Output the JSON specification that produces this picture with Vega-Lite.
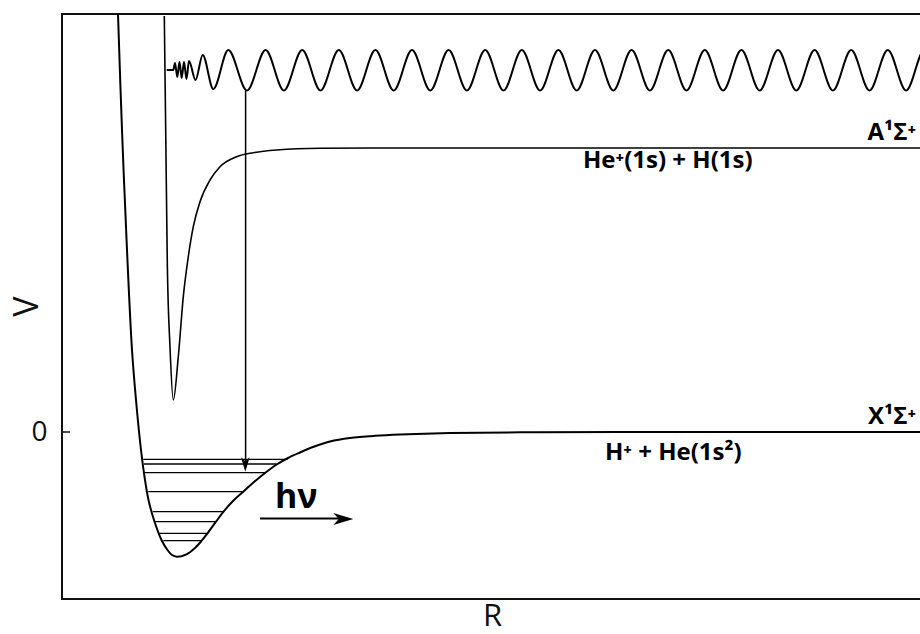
{
  "$schema": "https://vega.github.io/schema/vega-lite/v6.json",
  "width": 860,
  "height": 585,
  "autosize": {"type": "none"},
  "padding": {"left": 62, "top": 14, "right": 0, "bottom": 35},
  "background": "white",
  "config": {
    "view": {"stroke": "#111", "strokeWidth": 2},
    "font": "Open Sans"
  },
  "datasets": {
    "curves": [
      {"s": "X", "x": 55.8, "y": 424},
      {"s": "X", "x": 56, "y": 418},
      {"s": "X", "x": 60, "y": 302},
      {"s": "X", "x": 65, "y": 182},
      {"s": "X", "x": 70, "y": 82},
      {"s": "X", "x": 74, "y": 32},
      {"s": "X", "x": 79, "y": -18},
      {"s": "X", "x": 83, "y": -48},
      {"s": "X", "x": 86.5, "y": -68},
      {"s": "X", "x": 92, "y": -88},
      {"s": "X", "x": 99.5, "y": -108},
      {"s": "X", "x": 105.5, "y": -118},
      {"s": "X", "x": 110, "y": -123},
      {"s": "X", "x": 114.7, "y": -124.7},
      {"s": "X", "x": 124.5, "y": -122.3},
      {"s": "X", "x": 133, "y": -116},
      {"s": "X", "x": 139.7, "y": -108.7},
      {"s": "X", "x": 145.5, "y": -101.3},
      {"s": "X", "x": 154, "y": -89.7},
      {"s": "X", "x": 161.5, "y": -79.7},
      {"s": "X", "x": 171, "y": -69},
      {"s": "X", "x": 181.3, "y": -59.7},
      {"s": "X", "x": 192, "y": -50},
      {"s": "X", "x": 203, "y": -41},
      {"s": "X", "x": 214.7, "y": -32.5},
      {"s": "X", "x": 226, "y": -26},
      {"s": "X", "x": 238, "y": -20.5},
      {"s": "X", "x": 251, "y": -15},
      {"s": "X", "x": 268, "y": -9.5},
      {"s": "X", "x": 288, "y": -6},
      {"s": "X", "x": 313, "y": -3.8},
      {"s": "X", "x": 338, "y": -2.5},
      {"s": "X", "x": 388, "y": -1},
      {"s": "X", "x": 458, "y": -0.3},
      {"s": "X", "x": 558, "y": 0},
      {"s": "X", "x": 870, "y": 0},
      {"s": "A", "x": 102.3, "y": 416},
      {"s": "A", "x": 103.7, "y": 302},
      {"s": "A", "x": 105.3, "y": 169},
      {"s": "A", "x": 108, "y": 85},
      {"s": "A", "x": 111.3, "y": 32},
      {"s": "A", "x": 116.3, "y": 75.3},
      {"s": "A", "x": 121.3, "y": 135.3},
      {"s": "A", "x": 126.3, "y": 175.3},
      {"s": "A", "x": 131.3, "y": 205.3},
      {"s": "A", "x": 138, "y": 230.3},
      {"s": "A", "x": 148, "y": 252},
      {"s": "A", "x": 158, "y": 265.3},
      {"s": "A", "x": 174.7, "y": 275.3},
      {"s": "A", "x": 191.3, "y": 279.3},
      {"s": "A", "x": 214.7, "y": 282},
      {"s": "A", "x": 258, "y": 283.7},
      {"s": "A", "x": 338, "y": 284},
      {"s": "A", "x": 870, "y": 284},
      {"s": "W", "x": 104.7, "y": 362},
      {"s": "W", "x": 111.3, "y": 362},
      {"s": "W", "x": 113, "y": 369},
      {"s": "W", "x": 115.3, "y": 355},
      {"s": "W", "x": 117.5, "y": 370},
      {"s": "W", "x": 119.7, "y": 354},
      {"s": "W", "x": 122, "y": 370},
      {"s": "W", "x": 124.5, "y": 353},
      {"s": "W", "x": 127, "y": 371},
      {"s": "W", "x": 133.5, "y": 352},
      {"s": "W", "x": 140.7, "y": 377},
      {"s": "W", "x": 151.3, "y": 343},
      {"s": "W", "x": 166.3, "y": 382},
      {"s": "W", "x": 185, "y": 341.5},
      {"s": "W", "x": 203.6, "y": 382},
      {"s": "W", "x": 221.9, "y": 341.5},
      {"s": "W", "x": 240.2, "y": 382},
      {"s": "W", "x": 258.5, "y": 341.5},
      {"s": "W", "x": 276.8, "y": 382},
      {"s": "W", "x": 295.1, "y": 341.5},
      {"s": "W", "x": 313.4, "y": 382},
      {"s": "W", "x": 331.7, "y": 341.5},
      {"s": "W", "x": 350, "y": 382},
      {"s": "W", "x": 368.3, "y": 341.5},
      {"s": "W", "x": 386.6, "y": 382},
      {"s": "W", "x": 404.9, "y": 341.5},
      {"s": "W", "x": 423.2, "y": 382},
      {"s": "W", "x": 441.5, "y": 341.5},
      {"s": "W", "x": 459.8, "y": 382},
      {"s": "W", "x": 478.1, "y": 341.5},
      {"s": "W", "x": 496.4, "y": 382},
      {"s": "W", "x": 514.7, "y": 341.5},
      {"s": "W", "x": 533, "y": 382},
      {"s": "W", "x": 551.3, "y": 341.5},
      {"s": "W", "x": 569.6, "y": 382},
      {"s": "W", "x": 587.9, "y": 341.5},
      {"s": "W", "x": 606.2, "y": 382},
      {"s": "W", "x": 624.5, "y": 341.5},
      {"s": "W", "x": 642.8, "y": 382},
      {"s": "W", "x": 661.1, "y": 341.5},
      {"s": "W", "x": 679.4, "y": 382},
      {"s": "W", "x": 697.7, "y": 341.5},
      {"s": "W", "x": 716, "y": 382},
      {"s": "W", "x": 734.3, "y": 341.5},
      {"s": "W", "x": 752.6, "y": 382},
      {"s": "W", "x": 770.9, "y": 341.5},
      {"s": "W", "x": 789.2, "y": 382},
      {"s": "W", "x": 807.5, "y": 341.5},
      {"s": "W", "x": 825.8, "y": 382},
      {"s": "W", "x": 844.1, "y": 341.5},
      {"s": "W", "x": 862.4, "y": 382},
      {"s": "W", "x": 880.7, "y": 341.5}
    ],
    "levels": [
      {"x": 81.3, "x2": 225.5, "y": -27.3},
      {"x": 82, "x2": 214.7, "y": -32},
      {"x": 83, "x2": 203, "y": -40.7},
      {"x": 86.3, "x2": 181.3, "y": -59.7},
      {"x": 90.7, "x2": 161.3, "y": -79.7},
      {"x": 93, "x2": 154, "y": -89.7},
      {"x": 97.3, "x2": 145.3, "y": -101.3},
      {"x": 101.3, "x2": 139.7, "y": -108.7}
    ],
    "vlines": [
      {"x": 183.6, "y": 341.5, "y2": -36}
    ],
    "hlines": [
      {"x": 198, "x2": 285, "y": -86.5}
    ],
    "ticks0": [
      {"x": 0, "x2": 8, "y": 0}
    ],
    "headDown": [
      {"x": 183.3, "y": -32.5}
    ],
    "headRight": [
      {"x": 281.3, "y": -87}
    ],
    "labelsRight": [
      {"x": 854, "y": 292, "t": "A¹Σ⁺"},
      {"x": 854, "y": 8, "t": "X¹Σ⁺"}
    ],
    "labelsLeft": [
      {"x": 521, "y": 264, "t": "He⁺(1s) + H(1s)"},
      {"x": 543, "y": -28, "t": "H⁺ + He(1s²)"}
    ],
    "hnu": [
      {"x": 213, "y": -76, "t": "hν"}
    ]
  },
  "encoding": {
    "x": {
      "field": "x",
      "type": "quantitative",
      "scale": {"domain": [0, 860], "nice": false, "zero": false},
      "axis": {"title": "R", "domain": false, "ticks": false, "labels": false, "grid": false, "titleFontSize": 31, "titleFontWeight": "normal", "titleFont": "Open Sans", "titleColor": "#111", "titlePadding": 2}
    },
    "y": {
      "field": "y",
      "type": "quantitative",
      "scale": {"domain": [-167, 418], "nice": false, "zero": false},
      "axis": {"title": "V", "values": [0], "domain": false, "ticks": false, "grid": false, "labelFontSize": 28, "labelFont": "Open Sans", "labelColor": "#111", "labelPadding": 15, "titleFontSize": 34, "titleFontWeight": "normal", "titleFont": "Open Sans", "titleColor": "#111", "titleX": -25, "titleY": 292, "titleAngle": -90, "titleAlign": "center", "titleBaseline": "alphabetic"}
    }
  },
  "layer": [
    {
      "data": {"name": "curves"},
      "transform": [{"filter": "datum.s == 'X'"}],
      "mark": {"type": "line", "interpolate": "catmull-rom", "color": "#000", "strokeWidth": 2, "clip": true},
      "encoding": {"order": {"field": "x", "type": "quantitative"}}
    },
    {
      "data": {"name": "curves"},
      "transform": [{"filter": "datum.s == 'A'"}],
      "mark": {"type": "line", "interpolate": "monotone", "color": "#000", "strokeWidth": 1.6, "clip": true},
      "encoding": {"order": {"field": "x", "type": "quantitative"}}
    },
    {
      "data": {"name": "curves"},
      "transform": [{"filter": "datum.s == 'W'"}],
      "mark": {"type": "line", "interpolate": "monotone", "color": "#000", "strokeWidth": 2, "clip": true},
      "encoding": {"order": {"field": "x", "type": "quantitative"}}
    },
    {
      "data": {"name": "levels"},
      "mark": {"type": "rule", "color": "#000", "strokeWidth": 1.3},
      "encoding": {"x2": {"field": "x2"}}
    },
    {
      "data": {"name": "vlines"},
      "mark": {"type": "rule", "color": "#000", "strokeWidth": 1.5},
      "encoding": {"y2": {"field": "y2"}}
    },
    {
      "data": {"name": "hlines"},
      "mark": {"type": "rule", "color": "#000", "strokeWidth": 2},
      "encoding": {"x2": {"field": "x2"}}
    },
    {
      "data": {"name": "ticks0"},
      "mark": {"type": "rule", "color": "#111", "strokeWidth": 1.5},
      "encoding": {"x2": {"field": "x2"}}
    },
    {
      "data": {"name": "headDown"},
      "mark": {"type": "point", "shape": "M0,1 L-0.6,-1 L0,-0.45 L0.6,-1 Z", "size": 207, "filled": true, "color": "#000", "opacity": 1}
    },
    {
      "data": {"name": "headRight"},
      "mark": {"type": "point", "shape": "M1,0 L-1,-0.6 L-0.45,0 L-1,0.6 Z", "size": 400, "filled": true, "color": "#000", "opacity": 1}
    },
    {
      "data": {"name": "labelsRight"},
      "mark": {"type": "text", "align": "right", "baseline": "alphabetic", "fontSize": 24, "fontWeight": "bold", "font": "Open Sans", "color": "#000"},
      "encoding": {"text": {"field": "t"}}
    },
    {
      "data": {"name": "labelsLeft"},
      "mark": {"type": "text", "align": "left", "baseline": "alphabetic", "fontSize": 24, "fontWeight": "bold", "font": "Open Sans", "color": "#000"},
      "encoding": {"text": {"field": "t"}}
    },
    {
      "data": {"name": "hnu"},
      "mark": {"type": "text", "align": "left", "baseline": "alphabetic", "fontSize": 34, "fontWeight": "bold", "font": "Open Sans", "color": "#000"},
      "encoding": {"text": {"field": "t"}}
    }
  ]
}
